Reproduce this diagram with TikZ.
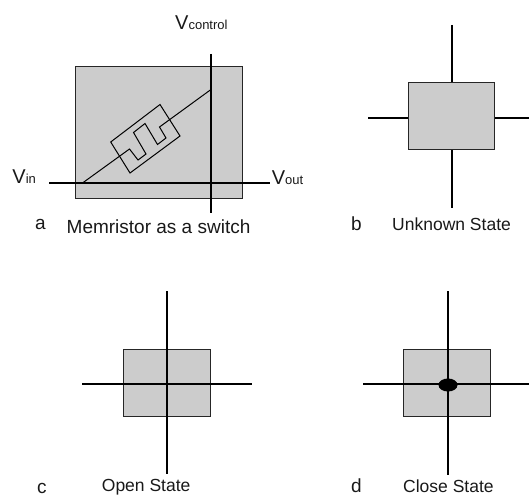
\documentclass[tikz,border=0pt]{standalone}
\usepackage{fontspec}
\usetikzlibrary{shapes.geometric}
\setmainfont{Liberation Sans}
\tikzset{
  chip/.style={draw=black!85,fill=black!20,line width=1.1pt,inner sep=0pt,anchor=north west},
  wire/.style={draw=black,line width=1.3pt},
  thin wire/.style={draw=black,line width=1pt},
  lbl/.style={inner sep=0pt,anchor=base west,text=black!90},
  letter/.style={lbl,font=\fontsize{19}{19}\selectfont},
  caption/.style={lbl,font=\fontsize{17.5}{18}\selectfont},
}
\newcommand{\vlab}[1]{\fontsize{20}{20}\selectfont V\fontsize{13}{13}\selectfont #1}
\begin{document}
\begin{tikzpicture}[x=1pt,y=-1pt]
\useasboundingbox (0,0) rectangle (529,497);
% panel a
\node[chip,minimum width=167pt,minimum height=132pt] (ra) at (75,66) {};
\coordinate (at) at (211,54); \coordinate (ab) at (211,213);
\coordinate (al) at (49,183); \coordinate (ar) at (270,183);
\draw[wire] (at) -- (ab);
\draw[wire] (al) -- (ar);
\coordinate (ds) at (82.5,183); \coordinate (de) at (211,89.5);
\draw[thin wire,line join=miter] (ds) -- (129.5,149) -- (138,160) -- (146,154) -- (133.5,132.5) -- (145,123.5) -- (157.5,144.5) -- (166,138) -- (159.5,127) -- (de);
\draw[thin wire] (160,104.5) -- (180,136) -- (130,173) -- (110.7,142) -- cycle;
\node[lbl] (vc) at (175,29.5) {\vlab{control}};
\node[lbl] (vi) at (12.3,183) {\vlab{in}};
\node[lbl] (vo) at (271.7,184) {\vlab{out}};
\node[letter] (la) at (35,229.5) {a};
\node[lbl,font=\fontsize{19}{19}\selectfont] (ta) at (66.5,233) {Memristor as a switch};
% panel b
\node[chip,minimum width=86pt,minimum height=67pt] (rb) at (408,82) {};
\coordinate (bt) at (452,25); \coordinate (bb) at (452,208);
\coordinate (bl) at (368,118); \coordinate (br) at (529,118);
\draw[wire] (bt) -- (rb.north -| bt);
\draw[wire] (rb.south -| bb) -- (bb);
\draw[wire] (bl) -- (rb.west |- bl);
\draw[wire] (rb.east |- br) -- (br);
\node[letter] (lb) at (351,230.5) {b};
\node[caption] (tb) at (392,230) {Unknown State};
% panel c
\node[chip,minimum width=87pt,minimum height=67pt] (rc) at (122.5,349) {};
\coordinate (ct) at (167,291); \coordinate (cb) at (167,474);
\coordinate (cl) at (82,384); \coordinate (cr) at (252,384);
\draw[wire] (ct) -- (cb);
\draw[wire] (cl) -- (cr);
\node[letter] (lc) at (37,493) {c};
\node[caption] (tc) at (101.7,491.5) {Open State};
% panel d
\node[chip,minimum width=86.4pt,minimum height=67pt] (rd) at (403.3,349) {};
\coordinate (dt) at (448,291); \coordinate (db) at (448,475);
\coordinate (dl) at (363,384); \coordinate (dr) at (529,384);
\draw[wire] (dt) -- (db);
\draw[wire] (dl) -- (dr);
\node[fill=black,draw=none,ellipse,minimum width=19pt,minimum height=13pt,inner sep=0pt] (dot) at (448,385) {};
\node[letter] (ld) at (351,492.5) {d};
\node[caption] (td) at (403,492.5) {Close State};
\end{tikzpicture}
\end{document}
